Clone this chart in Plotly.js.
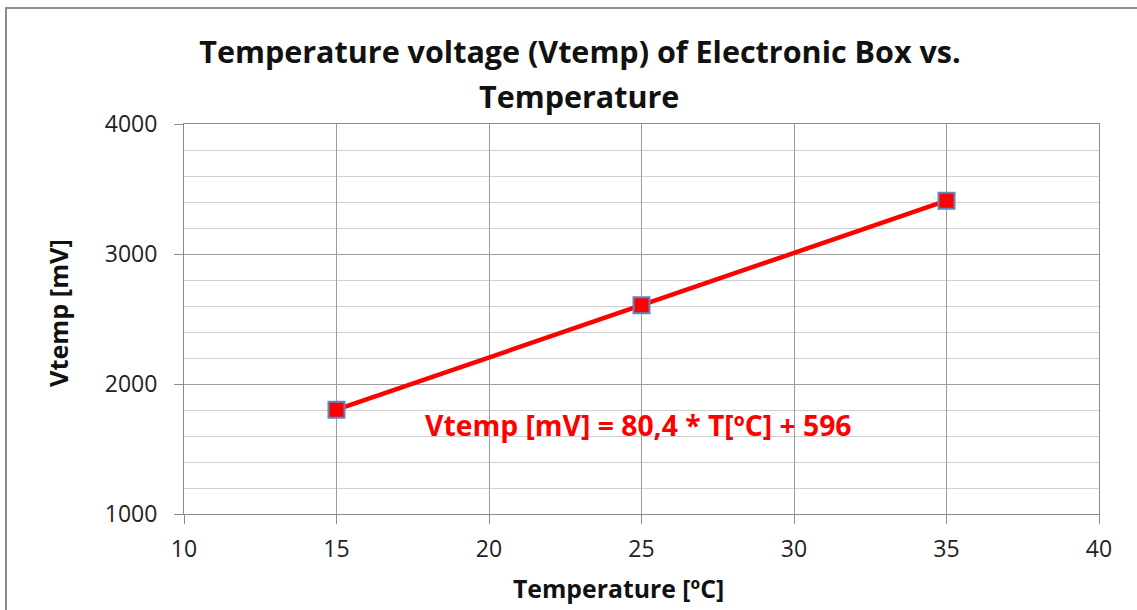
<!DOCTYPE html>
<html>
<head>
<meta charset="utf-8">
<script src="https://cdn.plot.ly/plotly-3.0.1.min.js"></script>
<style>
html,body{margin:0;padding:0;background:#fff;overflow:hidden;}
#chart{width:1137px;height:610px;position:absolute;left:0;top:0;}
#frame{position:absolute;left:5px;top:7px;width:1200px;height:700px;border:2px solid #8c8c8c;pointer-events:none;}
</style>
</head>
<body>
<div id="chart"></div>
<div id="frame"></div>
<script>
const temperature = [15, 25, 35];
const vtemp = [1802, 2606, 3410];
const titleLine1 = "Temperature voltage (Vtemp) of Electronic Box vs.";
const titleLine2 = "Temperature";
const xTitle = "Temperature [ºC]";
const yTitle = "Vtemp [mV]";
const equationText = "Vtemp [mV] = 80,4 * T[ºC] + 596";
const equationPos = [24.9, 1685];

const FONT = "'Open Sans', Lato, sans-serif";
const L = 184, R = 38, T = 124, B = 96, W = 1137, H = 610;
const pw = W - L - R, ph = H - T - B;
const px = v => (v - L) / pw;          // page x -> paper x
const py = v => (H - B - v) / ph;      // page y -> paper y

const trace = {
  x: temperature, y: vtemp, type: 'scatter', mode: 'lines+markers',
  line: {color: '#ff0000', width: 4.5},
  marker: {symbol: 'square', size: 16, color: '#ff0000', line: {color: '#5b87c5', width: 2}},
  hoverinfo: 'none', showlegend: false
};

const layout = {
  width: W, height: H,
  margin: {l: L, r: R, t: T, b: B, pad: 0},
  paper_bgcolor: '#fff', plot_bgcolor: '#fff',
  font: {family: FONT, color: '#222', size: 20},
  title: {text: '<b>' + titleLine1 + '</b>', x: 580 / W, xanchor: 'center', xref: 'container',
          y: 1 - 52 / H, yanchor: 'middle', yref: 'container',
          font: {family: FONT, size: 30.5, color: '#111'}},
  xaxis: {range: [10, 40], dtick: 5, tick0: 10, showgrid: true, gridcolor: '#9c9c9c', gridwidth: 1,
          ticks: 'outside', ticklen: 9, tickcolor: '#8c8c8c', showline: true, linecolor: '#8c8c8c',
          mirror: true, zeroline: false, fixedrange: true, ticklabelstandoff: 5,
          tickfont: {family: FONT, size: 23, color: '#222'}},
  yaxis: {range: [1000, 4000], dtick: 1000, tick0: 1000, showgrid: true, gridcolor: '#9c9c9c', gridwidth: 1,
          minor: {dtick: 200, showgrid: true, gridcolor: '#cfcfcf', gridwidth: 1},
          ticks: 'outside', ticklen: 9, tickcolor: '#8c8c8c', showline: true, linecolor: '#8c8c8c',
          mirror: true, zeroline: false, fixedrange: true, ticklabelstandoff: 12,
          tickfont: {family: FONT, size: 23, color: '#222'}},
  annotations: [
    {text: '<b>' + titleLine2 + '</b>', x: px(579), y: py(96), xref: 'paper', yref: 'paper',
     showarrow: false, xanchor: 'center', yanchor: 'middle',
     font: {family: FONT, size: 30.5, color: '#111'}},
    {text: '<b>' + equationText + '</b>', x: equationPos[0], y: equationPos[1], xref: 'x', yref: 'y',
     showarrow: false, xanchor: 'center', yanchor: 'middle',
     font: {family: FONT, size: 28.3, color: '#ff0000'}},
    {text: '<b>' + xTitle + '</b>', x: px(618), y: py(588), xref: 'paper', yref: 'paper',
     showarrow: false, xanchor: 'center', yanchor: 'middle',
     font: {family: FONT, size: 24.8, color: '#111'}},
    {text: '<b>' + yTitle + '</b>', x: px(58), y: py(313), xref: 'paper', yref: 'paper',
     showarrow: false, textangle: -90, xanchor: 'center', yanchor: 'middle',
     font: {family: FONT, size: 25.3, color: '#111'}}
  ]
};

Plotly.newPlot('chart', [trace], layout, {displayModeBar: false, staticPlot: true});
</script>
</body>
</html>
